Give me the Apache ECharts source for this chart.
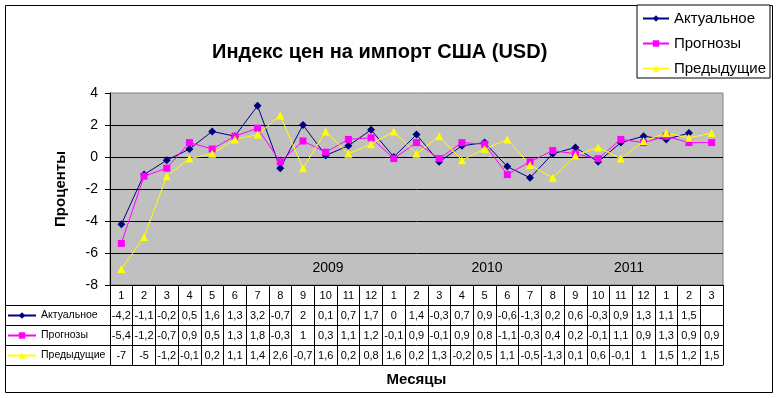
<!DOCTYPE html>
<html><head><meta charset="utf-8">
<script src="https://cdn.jsdelivr.net/npm/echarts@6/dist/echarts.min.js"></script>
<style>html,body{margin:0;padding:0;background:#fff}#c{width:780px;height:398px}</style>
</head><body><div id="c"></div>
<script>
const months = [1,2,3,4,5,6,7,8,9,10,11,12,1,2,3,4,5,6,7,8,9,10,11,12,1,2,3];
const actual = [-4.2,-1.1,-0.2,0.5,1.6,1.3,3.2,-0.7,2,0.1,0.7,1.7,0,1.4,-0.3,0.7,0.9,-0.6,-1.3,0.2,0.6,-0.3,0.9,1.3,1.1,1.5,null];
const forecast = [-5.4,-1.2,-0.7,0.9,0.5,1.3,1.8,-0.3,1,0.3,1.1,1.2,-0.1,0.9,-0.1,0.9,0.8,-1.1,-0.3,0.4,0.2,-0.1,1.1,0.9,1.3,0.9,0.9];
const previous = [-7,-5,-1.2,-0.1,0.2,1.1,1.4,2.6,-0.7,1.6,0.2,0.8,1.6,0.2,1.3,-0.2,0.5,1.1,-0.5,-1.3,0.1,0.6,-0.1,1,1.5,1.2,1.5];
const yearLabels = ['2009','2010','2011'];
const seriesNames = ['Актуальное','Прогнозы','Предыдущие'];
const titleText = 'Индекс цен на импорт США (USD)';
const yName = 'Проценты';
const xName = 'Месяцы';

const FONT = '"Liberation Sans", Arial, sans-serif';
const fmt = v => (v === null || v === undefined) ? '' : String(v).replace('.', ',');

function tableAxis(data, offset, showLabels, showTicks) {
  return {
    type: 'category', gridIndex: 0, position: 'bottom', offset: offset,
    data: data, boundaryGap: true,
    axisLine: { show: true, onZero: false, lineStyle: { color: '#000', width: 1 } },
    axisTick: { show: showTicks, length: 20, interval: 0, lineStyle: { color: '#000', width: 1 } },
    axisLabel: { show: showLabels, interval: 0, margin: 5, color: '#000', fontSize: 11, fontFamily: FONT },
    splitLine: { show: false }
  };
}

const chart = echarts.init(document.getElementById('c'), null, { renderer: 'canvas' });
const xMonths = tableAxis(months.map(String), 0, true, true);
xMonths.name = xName;
xMonths.nameLocation = 'middle';
xMonths.nameGap = 87;
xMonths.nameTextStyle = { color: '#000', fontSize: 15, fontWeight: 'bold', fontFamily: FONT };

const option = {
  animation: false,
  textStyle: { fontFamily: FONT },
  title: {
    text: titleText, left: 207, top: 37,
    textStyle: { color: '#000', fontSize: 20, fontWeight: 'bold', fontFamily: FONT }
  },
  legend: [
    {
      data: seriesNames, orient: 'vertical', left: 637, top: 5,
      backgroundColor: '#fff', borderColor: '#000', borderWidth: 1, borderRadius: 0,
      padding: [6, 4, 2, 5], itemWidth: 26, itemHeight: 8, itemGap: 10,
      textStyle: { color: '#000', fontSize: 15, fontFamily: FONT }
    },
    {
      data: seriesNames, orient: 'vertical', left: 7, top: 310,
      padding: 0, itemWidth: 28, itemHeight: 8, itemGap: 9,
      textStyle: { color: '#000', fontSize: 10.5, fontFamily: FONT }
    }
  ],
  grid: {
    left: 110, right: 57, top: 93, bottom: 113,
    show: true, backgroundColor: '#c0c0c0', borderColor: '#808080', borderWidth: 1
  },
  xAxis: [
    xMonths,
    tableAxis(actual.map(fmt), 20, true, true),
    tableAxis(forecast.map(fmt), 40, true, true),
    tableAxis(previous.map(fmt), 60, true, true),
    tableAxis(months.map(String), 80, false, false)
  ],
  yAxis: {
    type: 'value', min: -8, max: 4, interval: 2,
    name: yName, nameLocation: 'middle', nameGap: 42,
    nameTextStyle: { color: '#000', fontSize: 15, fontWeight: 'bold', fontFamily: FONT },
    axisLine: { show: true, lineStyle: { color: '#000' } },
    axisTick: { show: true, length: 5, lineStyle: { color: '#000' } },
    axisLabel: { color: '#000', fontSize: 14, margin: 12, fontFamily: FONT },
    splitLine: { show: true, showMaxLine: false, lineStyle: { color: '#000', width: 1 } }
  },
  series: [
    {
      name: seriesNames[0], type: 'line', data: actual, xAxisIndex: 0,
      symbol: 'diamond', symbolSize: 8, connectNulls: false,
      lineStyle: { color: '#000080', width: 1 }, itemStyle: { color: '#000080' }
    },
    {
      name: seriesNames[1], type: 'line', data: forecast, xAxisIndex: 0,
      symbol: 'rect', symbolSize: 7,
      lineStyle: { color: '#ff00ff', width: 1 }, itemStyle: { color: '#ff00ff' }
    },
    {
      name: seriesNames[2], type: 'line', data: previous, xAxisIndex: 0,
      symbol: 'triangle', symbolSize: 8,
      lineStyle: { color: '#ffff00', width: 1 }, itemStyle: { color: '#ffff00' }
    }
  ],
  graphic: [
    { type: 'rect', left: 5, top: 5, z: -10, silent: true,
      shape: { width: 767, height: 387 }, style: { fill: '#fff', stroke: '#000', lineWidth: 1 } },
    { type: 'line', shape: { x1: 6, y1: 305.5, x2: 110, y2: 305.5 }, style: { stroke: '#000', lineWidth: 1 } },
    { type: 'line', shape: { x1: 6, y1: 325.5, x2: 110, y2: 325.5 }, style: { stroke: '#000', lineWidth: 1 } },
    { type: 'line', shape: { x1: 6, y1: 345.5, x2: 110, y2: 345.5 }, style: { stroke: '#000', lineWidth: 1 } },
    { type: 'line', shape: { x1: 6, y1: 365.5, x2: 110, y2: 365.5 }, style: { stroke: '#000', lineWidth: 1 } },
    { type: 'text', x: 328, y: 268, z: 5, style: { text: yearLabels[0], fill: '#000', font: '14px ' + FONT, align: 'center', verticalAlign: 'middle' } },
    { type: 'text', x: 487, y: 268, z: 5, style: { text: yearLabels[1], fill: '#000', font: '14px ' + FONT, align: 'center', verticalAlign: 'middle' } },
    { type: 'text', x: 629, y: 268, z: 5, style: { text: yearLabels[2], fill: '#000', font: '14px ' + FONT, align: 'center', verticalAlign: 'middle' } }
  ]
};
chart.setOption(option);
</script>
</body></html>
